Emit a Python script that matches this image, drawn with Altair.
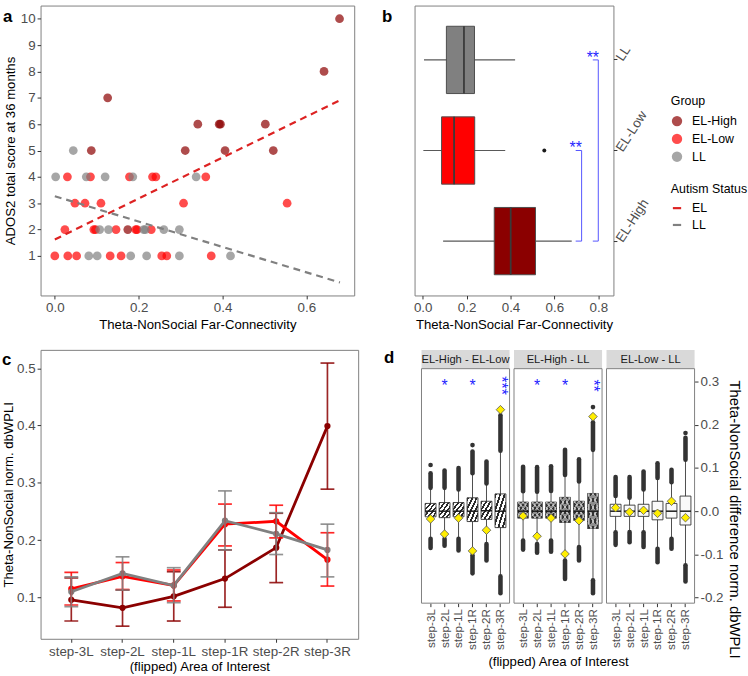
import altair as alt
import pandas as pd

FONT = "Liberation Sans"
LABEL_GREY = "#4d4d4d"

GROUPS = ["EL-High", "EL-Low", "LL"]
GROUP_COLORS = ["#8b0000", "#ff0000", "#808080"]
STATUS = ["EL", "LL"]
STATUS_COLORS = ["#dd2222", "#808080"]
STEPS = ["step-3L", "step-2L", "step-1L", "step-1R", "step-2R", "step-3R"]

# ---------------- panel a : scatter ----------------
a_elhigh_x = [0.679, 0.642, 0.126, 0.341, 0.392, 0.395, 0.502, 0.087, 0.311, 0.406, 0.521, 0.174]
a_elhigh_y = [10, 8, 7, 6, 6, 6, 6, 5, 5, 5, 5, 2]
a_ellow_x = [0.030, 0.085, 0.178, 0.233, 0.241, 0.360,
             0.048, 0.072, 0.110, 0.307, 0.554,
             0.024, 0.093, 0.097, 0.146, 0.193, 0.196, 0.230,
             0.000, 0.031, 0.052, 0.132, 0.158, 0.255, 0.267, 0.373]
a_ellow_y = [4, 4, 4, 4, 4, 4,
             3, 3, 3, 3, 3,
             2, 2, 2, 2, 2, 2, 2,
             1, 1, 1, 1, 1, 1, 1, 1]
a_ll_x = [0.002, 0.044, 0.075, 0.120, 0.186, 0.337,
          0.107, 0.128, 0.212, 0.216, 0.260, 0.297,
          0.081, 0.101, 0.181, 0.219, 0.297, 0.419]
a_ll_y = [4, 5, 4, 4, 4, 4,
          2, 2, 2, 2, 2, 2,
          1, 1, 1, 1, 1, 1]

# ---------------- panel b : box summaries ----------------
b_groups = ["EL-High", "EL-Low", "LL"]
b_wlo = [0.093, 0.003, 0.006]
b_q1 = [0.326, 0.086, 0.108]
b_med = [0.401, 0.143, 0.188]
b_q3 = [0.514, 0.237, 0.236]
b_whi = [0.679, 0.376, 0.421]
b_out_group = ["EL-Low"]
b_out_x = [0.554]
br_top = ["EL-Low", "LL"]
br_bottom = ["EL-High", "EL-High"]
br_x = [0.724, 0.800]
br_arm = [0.697, 0.775]
br_label = ["**", "**"]

# ---------------- panel c : means with error bars ----------------
c_elhigh_mean = [0.096, 0.082, 0.102, 0.133, 0.187, 0.399]
c_elhigh_lo = [0.059, 0.050, 0.059, 0.083, 0.126, 0.289]
c_elhigh_hi = [0.134, 0.113, 0.145, 0.183, 0.247, 0.509]
c_ellow_mean = [0.115, 0.137, 0.121, 0.228, 0.233, 0.166]
c_ellow_lo = [0.087, 0.114, 0.094, 0.190, 0.204, 0.120]
c_ellow_hi = [0.144, 0.161, 0.148, 0.263, 0.261, 0.213]
c_ll_mean = [0.110, 0.142, 0.121, 0.234, 0.211, 0.183]
c_ll_lo = [0.084, 0.113, 0.091, 0.183, 0.175, 0.136]
c_ll_hi = [0.136, 0.171, 0.152, 0.286, 0.248, 0.228]

# ---------------- panel d : bootstrap difference boxes ----------------
D_FACETS = ["EL-High - EL-Low", "EL-High - LL", "EL-Low - LL"]
d_q1 = [-0.013, -0.015, -0.013, -0.024, -0.019, -0.038,
        -0.016, -0.016, -0.016, -0.026, -0.021, -0.040,
        -0.012, -0.012, -0.012, -0.020, -0.016, -0.032]
d_med = [0.000, 0.000, 0.000, 0.000, 0.001, 0.000,
         0.000, 0.000, 0.000, 0.000, 0.000, 0.000,
         0.000, 0.000, 0.000, 0.000, 0.000, 0.000]
d_q3 = [0.018, 0.020, 0.020, 0.031, 0.023, 0.040,
        0.021, 0.021, 0.021, 0.032, 0.023, 0.041,
        0.016, 0.014, 0.016, 0.023, 0.018, 0.035]
d_hi_start = [0.054, 0.054, 0.050, 0.088, 0.064, 0.140,
              0.046, 0.045, 0.047, 0.084, 0.069, 0.142,
              0.035, 0.031, 0.050, 0.077, 0.067, 0.119]
d_hi_end = [0.088, 0.094, 0.100, 0.138, 0.115, 0.222,
            0.103, 0.102, 0.104, 0.142, 0.120, 0.206,
            0.079, 0.079, 0.092, 0.111, 0.096, 0.170]
d_lo_start = [-0.064, -0.064, -0.064, -0.102, -0.076, -0.151,
              -0.068, -0.076, -0.068, -0.114, -0.083, -0.160,
              -0.049, -0.048, -0.049, -0.087, -0.064, -0.125]
d_lo_end = [-0.085, -0.080, -0.091, -0.144, -0.114, -0.190,
            -0.089, -0.096, -0.094, -0.157, -0.114, -0.190,
            -0.078, -0.072, -0.083, -0.118, -0.087, -0.163]
d_obs = [-0.018, -0.053, -0.016, -0.092, -0.044, 0.235,
         -0.011, -0.058, -0.016, -0.099, -0.022, 0.219,
         0.008, -0.002, 0.002, -0.005, 0.023, -0.015]
d_extra_facet = ["EL-High - EL-Low", "EL-High - EL-Low", "EL-High - LL", "EL-Low - LL"]
d_extra_step = ["step-3L", "step-1R", "step-3R", "step-3R"]
d_extra_val = [0.107, 0.153, 0.241, 0.181]
d_star_facet = ["EL-High - EL-Low", "EL-High - EL-Low", "EL-High - EL-Low",
                "EL-High - LL", "EL-High - LL", "EL-High - LL"]
d_star_step = ["step-2L", "step-1R", "step-3R", "step-2L", "step-1R", "step-3R"]
d_star_label = ["*", "*", "***", "*", "*", "**"]
d_star_y = [0.30, 0.30, 0.30, 0.30, 0.30, 0.30]

# ---------------- tables ----------------
df_a = pd.DataFrame({
    "x": a_elhigh_x + a_ellow_x + a_ll_x,
    "y": a_elhigh_y + a_ellow_y + a_ll_y,
    "group": ["EL-High"] * len(a_elhigh_x) + ["EL-Low"] * len(a_ellow_x) + ["LL"] * len(a_ll_x),
})
df_b = pd.DataFrame({"group": b_groups, "wlo": b_wlo, "q1": b_q1, "med": b_med, "q3": b_q3, "whi": b_whi})
df_bo = pd.DataFrame({"group": b_out_group, "x": b_out_x})
df_br = pd.DataFrame({"top": br_top, "bottom": br_bottom, "bx": br_x, "arm": br_arm, "label": br_label})
c_rows = []
for g, m, lo, hi in [("EL-High", c_elhigh_mean, c_elhigh_lo, c_elhigh_hi),
                     ("EL-Low", c_ellow_mean, c_ellow_lo, c_ellow_hi),
                     ("LL", c_ll_mean, c_ll_lo, c_ll_hi)]:
    for s, mv, lv, hv in zip(STEPS, m, lo, hi):
        c_rows.append({"group": g, "step": s, "mean": mv, "lo": lv, "hi": hv})
df_c = pd.DataFrame(c_rows)
df_d = pd.DataFrame({
    "facet": [f for f in D_FACETS for _ in STEPS],
    "step": STEPS * 3,
    "q1": d_q1, "med": d_med, "q3": d_q3,
    "hi_start": d_hi_start, "hi_end": d_hi_end,
    "lo_start": d_lo_start, "lo_end": d_lo_end, "obs": d_obs,
})
df_dx = pd.DataFrame({"facet": d_extra_facet, "step": d_extra_step, "v": d_extra_val})
df_ds = pd.DataFrame({"facet": d_star_facet, "step": d_star_step, "label": d_star_label, "y": d_star_y})

color_scale = alt.Scale(domain=GROUPS, range=GROUP_COLORS)
group_legend = alt.Legend(title="Group", orient="none", legendX=637, legendY=91,
                          symbolType="circle", symbolSize=110, symbolOpacity=0.7,
                          symbolStrokeWidth=0, rowPadding=5, titlePadding=7, labelOffset=9)
status_legend = alt.Legend(title="Autism Status", orient="none", legendX=637, legendY=179,
                           symbolType="stroke", symbolSize=70, symbolStrokeWidth=2.2,
                           rowPadding=4, titlePadding=7, labelOffset=9)
BORDER = alt.ViewBackground(stroke="#7f7f7f", strokeWidth=1)


def letter(ch, x, y):
    return alt.Chart(alt.Data(values=[{"t": ch}])).mark_text(
        fontSize=17, fontWeight="bold", align="left", baseline="alphabetic", color="black"
    ).encode(text="t:N", x=alt.value(x), y=alt.value(y))


# ---------------- panel a ----------------
ax_a = alt.X("x:Q", scale=alt.Scale(domain=[-0.034, 0.714], nice=False, zero=False),
             axis=alt.Axis(values=[0, 0.2, 0.4, 0.6], format=".1f",
                           title="Theta-NonSocial Far-Connectivity", titlePadding=3))
ay_a = alt.Y("y:Q", scale=alt.Scale(domain=[-0.5, 10.5], nice=False, zero=False),
             axis=alt.Axis(values=[1, 2, 3, 4, 5, 6, 7, 8, 9, 10], format="d",
                           title="ADOS2 total score at 36 months", titlePadding=3))
pts_a = alt.Chart(df_a).mark_circle(size=78, opacity=0.7).encode(
    x=ax_a, y=ay_a, color=alt.Color("group:N", scale=color_scale, legend=group_legend))
reg_a = alt.Chart(df_a).transform_calculate(
    status="datum.group == 'LL' ? 'LL' : 'EL'"
).transform_regression("x", "y", groupby=["status"], extent=[0, 0.68]).mark_line(
    strokeDash=[7, 5], strokeWidth=2.2
).encode(x=ax_a, y=ay_a,
         stroke=alt.Stroke("status:N", scale=alt.Scale(domain=STATUS, range=STATUS_COLORS),
                           legend=status_legend))
chart_a = alt.layer(pts_a, reg_a, letter("a", -38, 17)).properties(width=317, height=293, view=BORDER)

# ---------------- panel b ----------------
by = alt.Scale(domain=["LL", "EL-Low", "EL-High"], paddingInner=0, paddingOuter=0.1)
bx_scale = alt.Scale(domain=[-0.037, 0.869], nice=False, zero=False)
bx_axis = alt.Axis(values=[0, 0.2, 0.4, 0.6, 0.8], format=".1f",
                   title="Theta-NonSocial Far-Connectivity", titlePadding=3)
by_axis = alt.Axis(orient="right", title=None, labelAngle=-57, labelAlign="left",
                   labelBaseline="middle", labelPadding=2)
whisk_b = alt.Chart(df_b).mark_rule(color="#595959", strokeWidth=1.1).encode(
    x=alt.X("wlo:Q", scale=bx_scale, axis=bx_axis), x2="whi:Q",
    y=alt.Y("group:N", scale=by, axis=by_axis))
box_b = alt.Chart(df_b).mark_bar(height=68, stroke="#4d4d4d", strokeWidth=1).encode(
    x=alt.X("q1:Q", scale=bx_scale, axis=bx_axis), x2="q3:Q",
    y=alt.Y("group:N", scale=by, axis=by_axis),
    color=alt.Color("group:N", scale=color_scale, legend=group_legend))
med_b = alt.Chart(df_b).mark_tick(size=68, thickness=1.8, color="#3a3a3a", opacity=1).encode(
    x=alt.X("med:Q", scale=bx_scale, axis=bx_axis), y=alt.Y("group:N", scale=by, axis=by_axis))
out_b = alt.Chart(df_bo).mark_circle(size=16, color="#1a1a1a", opacity=1).encode(
    x=alt.X("x:Q", scale=bx_scale, axis=bx_axis), y=alt.Y("group:N", scale=by, axis=by_axis))
BLUE_LINE = "#5555ff"
brv = alt.Chart(df_br).mark_rule(color=BLUE_LINE, strokeWidth=1).encode(
    x=alt.X("bx:Q", scale=bx_scale, axis=bx_axis),
    y=alt.Y("top:N", scale=by, axis=by_axis), y2="bottom:N")
brt = alt.Chart(df_br).mark_rule(color=BLUE_LINE, strokeWidth=1).encode(
    x=alt.X("arm:Q", scale=bx_scale, axis=bx_axis), x2="bx:Q",
    y=alt.Y("top:N", scale=by, axis=by_axis))
brb = alt.Chart(df_br).mark_rule(color=BLUE_LINE, strokeWidth=1).encode(
    x=alt.X("arm:Q", scale=bx_scale, axis=bx_axis), x2="bx:Q",
    y=alt.Y("bottom:N", scale=by, axis=by_axis))
brtext = alt.Chart(df_br).mark_text(color="#1f1fff", fontSize=16, baseline="alphabetic", dy=3).encode(
    x=alt.X("arm:Q", scale=bx_scale, axis=bx_axis),
    y=alt.Y("top:N", scale=by, axis=by_axis), text="label:N")
chart_b = alt.layer(whisk_b, box_b, med_b, out_b, brv, brt, brb, brtext,
                    letter("b", -33, 17)).properties(width=201, height=293, view=BORDER)

# ---------------- panel c ----------------
cx = alt.X("step:N", sort=STEPS, scale=alt.Scale(domain=STEPS, paddingInner=0, paddingOuter=0.1),
           axis=alt.Axis(labelAngle=0, title="(flipped) Area of Interest", titlePadding=2))
cy_scale = alt.Scale(domain=[0.028, 0.532], nice=False, zero=False)
cy_axis = alt.Axis(values=[0.1, 0.2, 0.3, 0.4, 0.5], format=".1f",
                   title="Theta-NonSocial norm. dbWPLI", titlePadding=1)
ccolor = alt.Color("group:N", scale=color_scale, legend=group_legend)
c_layers = []
for g in GROUPS:
    base = alt.Chart(df_c).transform_filter(alt.datum.group == g)
    c_layers.append(base.mark_line(strokeWidth=2.8).encode(
        x=cx, y=alt.Y("mean:Q", scale=cy_scale, axis=cy_axis), color=ccolor))
    c_layers.append(base.mark_circle(size=40, opacity=1).encode(
        x=cx, y=alt.Y("mean:Q", scale=cy_scale, axis=cy_axis), color=ccolor))
for g in GROUPS:
    base = alt.Chart(df_c).transform_filter(alt.datum.group == g)
    c_layers.append(base.mark_rule(strokeWidth=1.7, opacity=0.85).encode(
        x=cx, y=alt.Y("lo:Q", scale=cy_scale, axis=cy_axis), y2="hi:Q", color=ccolor))
    c_layers.append(base.mark_tick(size=14, thickness=1.7, opacity=0.85).encode(
        x=cx, y=alt.Y("lo:Q", scale=cy_scale, axis=cy_axis), color=ccolor))
    c_layers.append(base.mark_tick(size=14, thickness=1.7, opacity=0.85).encode(
        x=cx, y=alt.Y("hi:Q", scale=cy_scale, axis=cy_axis), color=ccolor))
chart_c = alt.layer(*c_layers, letter("c", -39, 15)).properties(width=321, height=292, view=BORDER)

# ---------------- panel d ----------------
DW, DH, HEAD = 89, 256, 19


def stripes(n, dark, light, x1, y1, x2, y2):
    stops = []
    for k in range(n):
        stops.append({"offset": k / n, "color": dark})
        stops.append({"offset": (k + 0.45) / n, "color": dark})
        stops.append({"offset": (k + 0.45) / n, "color": light})
        stops.append({"offset": (k + 1) / n, "color": light})
    return {"gradient": "linear", "stops": stops, "x1": x1, "y1": y1, "x2": x2, "y2": y2}


def d_panel(idx):
    facet = D_FACETS[idx]
    sub = df_d[df_d["facet"] == facet]
    subx = df_dx[df_dx["facet"] == facet]
    subs = df_ds[df_ds["facet"] == facet]
    xsc = alt.Scale(domain=STEPS, paddingInner=0, paddingOuter=0.15)
    if idx == 1:
        xax = alt.Axis(labelAngle=-90, domain=False, labelFontSize=11.8,
                       title="(flipped) Area of Interest", titlePadding=5)
    else:
        xax = alt.Axis(labelAngle=-90, domain=False, labelFontSize=11.8, title=None)
    ysc = alt.Scale(domain=[-0.213, 0.33], range=[DH, HEAD], nice=False, zero=False)
    if idx == 2:
        yax = alt.Axis(orient="right", values=[-0.2, -0.1, 0, 0.1, 0.2, 0.3], domain=False,
                       labelExpr="datum.value < 0 ? '-' + format(-datum.value, '.1f') : format(datum.value, '.1f')",
                       title="Theta-NonSocial difference norm. dbWPLI", titleFontSize=15,
                       titleAngle=90, titleY=171, titlePadding=4)
    else:
        yax = None
    X = alt.X("step:N", sort=STEPS, scale=xsc, axis=xax)

    def Y(f):
        return alt.Y(f, type="quantitative", scale=ysc, axis=yax)

    layers = []
    bg = alt.Chart(alt.Data(values=[{"label": facet}]))
    layers.append(bg.mark_rect(fill="#d9d9d9").encode(
        x=alt.value(0), x2=alt.value(DW), y=alt.value(0), y2=alt.value(HEAD)))
    layers.append(bg.mark_text(fontSize=11.3, color="#1a1a1a", baseline="middle").encode(
        text="label:N", x=alt.value(DW / 2), y=alt.value(HEAD / 2 + 1)))
    base = alt.Chart(sub)
    layers.append(base.mark_rule(color="#4d4d4d", strokeWidth=1).encode(x=X, y=Y("lo_end"), y2="hi_end:Q"))
    layers.append(base.mark_rule(color="#333333", strokeWidth=4.6, strokeCap="round").encode(
        x=X, y=Y("hi_start"), y2="hi_end:Q"))
    layers.append(base.mark_rule(color="#333333", strokeWidth=4.6, strokeCap="round").encode(
        x=X, y=Y("lo_end"), y2="lo_start:Q"))
    if len(subx):
        layers.append(alt.Chart(subx).mark_circle(size=22, color="#333333", opacity=1).encode(x=X, y=Y("v")))
    if idx == 0:
        layers.append(base.mark_bar(width=11, fill=stripes(5, "#2b2b2b", "#ffffff", 0, 0, 1, 1),
                                    stroke="#333333", strokeWidth=0.9).encode(x=X, y=Y("q1"), y2="q3:Q"))
    elif idx == 1:
        layers.append(base.mark_bar(width=11, fill="#333333", stroke="#333333",
                                    strokeWidth=0.9).encode(x=X, y=Y("q1"), y2="q3:Q"))
        layers.append(base.mark_bar(width=11, fill=stripes(5, "rgba(255,255,255,0.45)", "rgba(255,255,255,0)", 0, 0, 1, 1),
                                    strokeWidth=0).encode(x=X, y=Y("q1"), y2="q3:Q"))
        layers.append(base.mark_bar(width=11, fill=stripes(5, "rgba(255,255,255,0.45)", "rgba(255,255,255,0)", 1, 0, 0, 1),
                                    strokeWidth=0).encode(x=X, y=Y("q1"), y2="q3:Q"))
    else:
        layers.append(base.mark_bar(width=11, fill="#fafafa", stroke="#333333",
                                    strokeWidth=0.9).encode(x=X, y=Y("q1"), y2="q3:Q"))
    layers.append(base.mark_tick(size=11, thickness=1.5, color="#1a1a1a", opacity=1).encode(x=X, y=Y("med")))
    layers.append(base.mark_point(shape="diamond", filled=True, fill="#ffee00", stroke="#555555",
                                  strokeWidth=0.8, size=75, opacity=1).encode(x=X, y=Y("obs")))
    if len(subs):
        single = subs[subs["label"] == "*"]
        multi = subs[subs["label"] != "*"]
        if len(single):
            layers.append(alt.Chart(single).mark_text(color="#1f1fff", fontSize=16, baseline="middle", dy=4).encode(
                x=X, y=Y("y"), text="label:N"))
        if len(multi):
            layers.append(alt.Chart(multi).mark_text(color="#1f1fff", fontSize=16, baseline="middle",
                                                     angle=90, dx=4).encode(x=X, y=Y("y"), text="label:N"))
    layers.append(bg.mark_rect(fill="transparent", stroke="#7f7f7f", strokeWidth=1).encode(
        x=alt.value(0), x2=alt.value(DW), y=alt.value(HEAD), y2=alt.value(DH)))
    if idx == 0:
        layers.append(letter("d", -38, 13))
    return alt.layer(*layers).properties(width=DW, height=DH)


chart_d = alt.hconcat(d_panel(0), d_panel(1), d_panel(2), spacing=4.5, bounds="flush")

row1 = alt.hconcat(chart_a, chart_b, spacing=26)
row2 = alt.hconcat(chart_c, chart_d, spacing=25)

chart = alt.vconcat(row1, row2, spacing=18).properties(
    padding={"left": 1, "top": 1, "right": 0, "bottom": 0}
).configure_view(strokeWidth=0).configure_axis(
    labelFont=FONT, titleFont=FONT, labelColor=LABEL_GREY, titleColor="#000000",
    labelFontSize=13.5, titleFontSize=13.3, titleFontWeight="normal", grid=False,
    tickColor="#333333", tickSize=3.5, labelPadding=2, domain=False
).configure_legend(
    labelFont=FONT, titleFont=FONT, labelFontSize=12.5, titleFontSize=12.5,
    titleFontWeight="normal", labelColor="#000000", titleColor="#000000"
).configure_text(font=FONT)

chart.save("out.html", embed_options={"renderer": "svg", "actions": False})
